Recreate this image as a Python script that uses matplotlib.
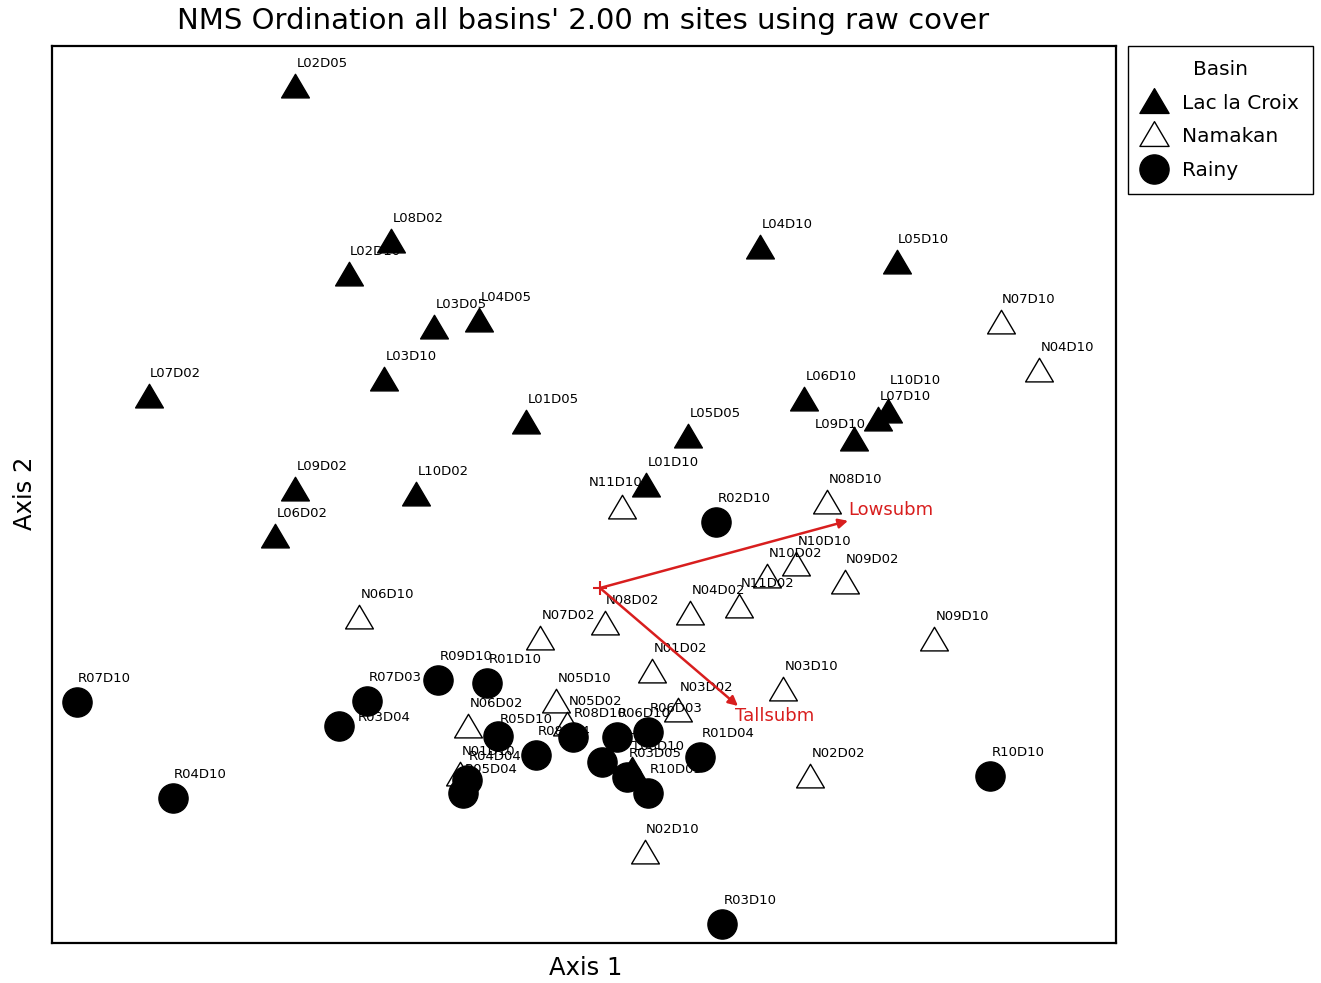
import matplotlib.pyplot as plt
from matplotlib.lines import Line2D
from matplotlib.path import Path

plt.rcParams['font.family'] = ['DejaVu Sans']

# NMS scores (Axis 1, Axis 2) per site, grouped by basin
lac_sites = ["L02D05", "L02D10", "L08D02", "L03D05", "L04D05", "L03D10", "L07D02",
             "L01D05", "L09D02", "L10D02", "L06D02", "L04D10", "L05D10", "L06D10",
             "L10D10", "L07D10", "L09D10", "L05D05", "L01D10", "L08D10"]
lac_x = [-0.762, -0.628, -0.522, -0.415, -0.302, -0.540, -1.128,
         -0.185, -0.762, -0.460, -0.812, 0.400, 0.742, 0.510,
         0.720, 0.695, 0.635, 0.220, 0.115, 0.080]
lac_y = [1.252, 0.782, 0.865, 0.650, 0.668, 0.520, 0.478,
         0.412, 0.245, 0.232, 0.128, 0.850, 0.812, 0.470,
         0.440, 0.420, 0.370, 0.378, 0.255, -0.455]

nam_sites = ["N07D10", "N04D10", "N08D10", "N11D10", "N10D10", "N10D02", "N09D02",
             "N11D02", "N04D02", "N08D02", "N07D02", "N06D10", "N09D10", "N01D02",
             "N03D10", "N03D02", "N05D10", "N05D02", "N06D02", "N01D10", "N02D02",
             "N02D10"]
nam_x = [1.002, 1.098, 0.568, 0.055, 0.490, 0.418, 0.612,
         0.348, 0.225, 0.012, -0.150, -0.602, 0.835, 0.130,
         0.458, 0.195, -0.110, -0.082, -0.330, -0.350, 0.525,
         0.112]
nam_y = [0.662, 0.542, 0.212, 0.200, 0.058, 0.028, 0.012,
         -0.048, -0.065, -0.090, -0.128, -0.075, -0.130, -0.210,
         -0.255, -0.308, -0.285, -0.342, -0.348, -0.468, -0.472,
         -0.662]

rainy_sites = ["R02D10", "R09D10", "R01D10", "R07D10", "R07D03", "R03D04", "R05D10",
               "R08D04", "R08D10", "R02D04", "R06D10", "R06D03", "R03D05", "R10D05",
               "R01D04", "R04D04", "R05D04", "R04D10", "R10D10", "R03D10"]
rainy_x = [0.290, -0.405, -0.282, -1.308, -0.582, -0.652, -0.255,
           -0.160, -0.068, 0.005, 0.042, 0.120, 0.068, 0.120,
           0.250, -0.332, -0.342, -1.068, 0.975, 0.305]
rainy_y = [0.165, -0.230, -0.238, -0.285, -0.282, -0.345, -0.370,
           -0.418, -0.372, -0.435, -0.372, -0.360, -0.472, -0.512,
           -0.422, -0.480, -0.512, -0.525, -0.470, -0.840]

# joint plot vectors
vec_names = ["Lowsubm", "Tallsubm"]
vec_x = [0.620, 0.345]
vec_y = [0.168, -0.295]

# labels that sit somewhere other than just above the marker (offset in points)
label_offsets = {
    "L09D10": (-28, 11),
    "N11D10": (-24, 18),
    "L10D10": (1, 23),
    "R03D04": (13, 6),
    "R05D10": (1, 12),
}

tri = Path([(-1, -0.75), (1, -0.75), (0, 0.95), (-1, -0.75)],
           [Path.MOVETO, Path.LINETO, Path.LINETO, Path.CLOSEPOLY])

fig = plt.figure(figsize=(13.21, 9.83), dpi=100)
ax = fig.add_axes([0.0394, 0.0407, 0.8054, 0.9125])

z = 2
groups = [
    (lac_sites, lac_x, lac_y, dict(marker=tri, ms=20, mfc="black", mec="black")),
    (nam_sites, nam_x, nam_y, dict(marker=tri, ms=20, mfc="white", mec="black", mew=1)),
    (rainy_sites, rainy_x, rainy_y, dict(marker="o", ms=21, mfc="black", mec="black")),
]
for sites, xs, ys, style in groups:
    for name, x, y in zip(sites, xs, ys):
        ax.plot(x, y, ls="none", zorder=z, **style)
        dx, dy = label_offsets.get(name, (1, 17))
        ax.annotate(name, (x, y), xytext=(dx, dy), textcoords="offset points",
                    ha="left", va="center", fontsize=9.5, zorder=z + 1)
        z += 2

# vectors from the centroid
red = "#d81e1e"
ax.plot(0, 0, marker="+", ms=10, color=red, mew=1.5, zorder=z)
for name, x, y in zip(vec_names, vec_x, vec_y):
    ax.annotate("", xy=(x, y), xytext=(0, 0),
                arrowprops=dict(arrowstyle="-|>", color=red, lw=1.8,
                                mutation_scale=14, shrinkA=0, shrinkB=0),
                zorder=z)
ax.annotate(vec_names[0], (vec_x[0], vec_y[0]), xytext=(0, 8), textcoords="offset points",
            ha="left", va="center", fontsize=13, color=red, zorder=z + 1)
ax.annotate(vec_names[1], (vec_x[1], vec_y[1]), xytext=(-2, -7), textcoords="offset points",
            ha="left", va="center", fontsize=13, color=red, zorder=z + 1)

ax.set_xlim(-1.37, 1.29)
ax.set_ylim(-0.8875, 1.355)
ax.set_xticks([])
ax.set_yticks([])
for sp in ax.spines.values():
    sp.set_linewidth(1.6)

fig.text(0.4413, 0.979, "NMS Ordination all basins' 2.00 m sites using raw cover",
         ha="center", va="center", fontsize=21)
fig.text(0.443, 0.0153, "Axis 1", ha="center", va="center", fontsize=17.5)
fig.text(0.019, 0.4985, "Axis 2", ha="center", va="center", fontsize=17.5, rotation=90)

handles = [
    Line2D([], [], ls="none", marker=tri, ms=21, mfc="black", mec="black"),
    Line2D([], [], ls="none", marker=tri, ms=21, mfc="white", mec="black", mew=1),
    Line2D([], [], ls="none", marker="o", ms=21, mfc="black", mec="black"),
]
leg = fig.legend(handles, ["Lac la Croix", "Namakan", "Rainy"], title="Basin",
                 loc="upper left", bbox_to_anchor=(0.8539, 0.9532), borderaxespad=0,
                 fontsize=14.5, title_fontsize=14.5, fancybox=False, edgecolor="black",
                 framealpha=1, handlelength=1.2, handletextpad=0.8,
                 labelspacing=0.72, borderpad=0.7)
leg.get_frame().set_linewidth(1.0)

fig.savefig("out.png", dpi=100)
